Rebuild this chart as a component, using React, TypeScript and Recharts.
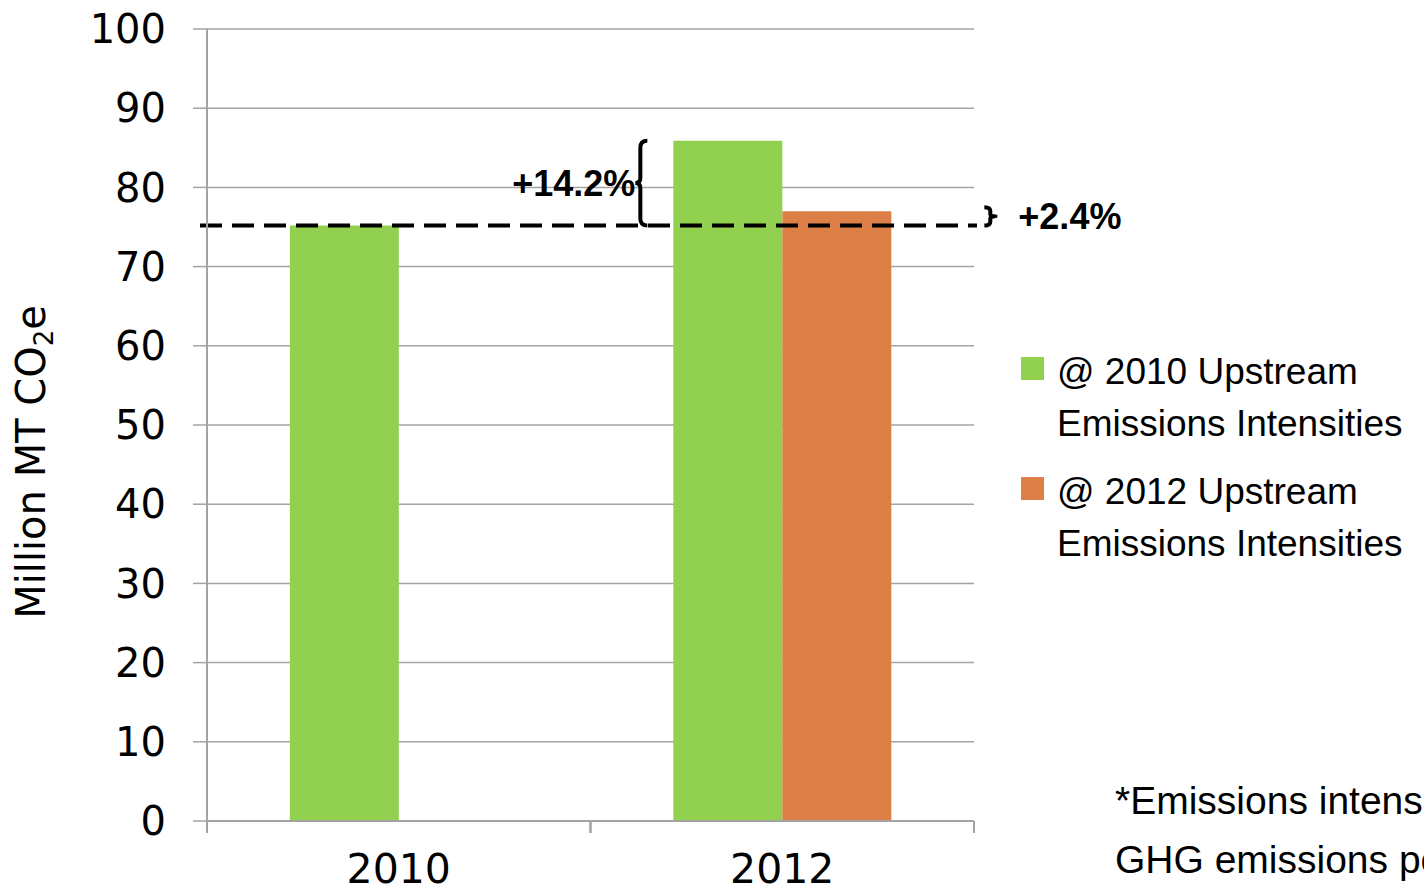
import React from "react";
import {
  BarChart,
  Bar,
  XAxis,
  YAxis,
  CartesianGrid,
  ReferenceLine,
  LabelList,
} from "recharts";

// emissions by year, valued at each year's upstream intensities
const years = ["2010", "2012"];
const at2010Intensities = [75.2, 85.9];
const at2012Intensities = [null, 77.0];
const yTicks = [0, 10, 20, 30, 40, 50, 60, 70, 80, 90, 100];

const series = [
  { key: "at2010", lines: ["@ 2010 Upstream", "Emissions Intensities"], color: "#92D050" },
  { key: "at2012", lines: ["@ 2012 Upstream", "Emissions Intensities"], color: "#DD8047" },
];

const footnote = ["*Emissions intensity =", "GHG emissions per unit of production"];

const data = years.map((year, i) => ({
  year,
  at2010: at2010Intensities[i],
  at2012: at2012Intensities[i],
}));

const baseline = at2010Intensities[0];

const W = 1424;
const H = 893;
const MARGIN = { top: 29, right: 450, bottom: 0, left: 0 };
const Y_AXIS_W = 207;
const X_AXIS_H = 72;
const BAND = (W - MARGIN.left - MARGIN.right - Y_AXIS_W) / years.length;

const GRID = "#a3a3a3";
const TICK_FONT = "'DejaVu Sans', sans-serif";
const TEXT_FONT = "'Liberation Sans', Arial, sans-serif";

const pctChange = (v: number) => `+${((v / baseline - 1) * 100).toFixed(1)}%`;

function YearTick(props: any) {
  const { x, y, payload } = props;
  return (
    <g>
      <line x1={x - BAND / 2} x2={x - BAND / 2} y1={y} y2={y + 12} stroke={GRID} strokeWidth={2} />
      <line x1={x + BAND / 2} x2={x + BAND / 2} y1={y} y2={y + 12} stroke={GRID} strokeWidth={2} />
      <text x={x} y={y + 62} textAnchor="middle" fontSize={41} fontFamily={TICK_FONT} fill="#000">
        {payload.value}
      </text>
    </g>
  );
}

function YLabel(props: any) {
  const vb = props.viewBox || { x: 0 };
  const cx = vb.x + 45;
  const cy = 462;
  return (
    <text
      x={cx}
      y={cy}
      textAnchor="middle"
      transform={`rotate(-90, ${cx}, ${cy})`}
      fontSize={40}
      fontFamily={TICK_FONT}
      fill="#000"
    >
      Million MT CO
      <tspan fontSize={26} dy={8}>2</tspan>
      <tspan dy={-8}>e</tspan>
    </text>
  );
}

// "{" brace beside the 2012 green bar, from the 2010 level up to the bar top
function GrowthBrace(props: any) {
  const vb = props.viewBox || props;
  const { x, y, height } = vb;
  const value = Number(props.value);
  if (!value || value === baseline) return null;
  const bottom = y + height - (height * baseline) / value;
  const bx = x - 33;
  const mid = (y + bottom) / 2;
  const d = `M ${bx + 7} ${y} Q ${bx} ${y} ${bx} ${y + 7} L ${bx} ${mid - 5} Q ${bx} ${mid} ${bx - 5} ${mid} Q ${bx} ${mid} ${bx} ${mid + 5} L ${bx} ${bottom - 7} Q ${bx} ${bottom} ${bx + 7} ${bottom}`;
  return (
    <g>
      <path d={d} fill="none" stroke="#000" strokeWidth={4} />
      <text x={bx - 5} y={mid} dy="0.36em" textAnchor="end" fontSize={36} fontWeight="bold" fontFamily={TEXT_FONT} fill="#000">
        {pctChange(value)}
      </text>
    </g>
  );
}

// small "}" brace right of the plot for the 2012-intensity bar
function SmallBrace(props: any) {
  const vb = props.viewBox || props;
  const { x, y, width, height } = vb;
  const value = Number(props.value);
  if (!value) return null;
  const bottom = y + height - (height * baseline) / value;
  const bx = x + width + 99;
  const top = y - 4;
  const mid = (top + bottom) / 2;
  const d = `M ${bx - 6} ${top} Q ${bx} ${top} ${bx} ${top + 4} L ${bx} ${mid - 2} Q ${bx} ${mid} ${bx + 5} ${mid} Q ${bx} ${mid} ${bx} ${mid + 2} L ${bx} ${bottom - 4} Q ${bx} ${bottom} ${bx - 6} ${bottom}`;
  return (
    <g>
      <path d={d} fill="none" stroke="#000" strokeWidth={4} />
      <line x1={bx} x2={bx + 7} y1={mid} y2={mid} stroke="#000" strokeWidth={3} />
      <text x={bx + 28} y={mid} dy="0.36em" textAnchor="start" fontSize={36} fontWeight="bold" fontFamily={TEXT_FONT} fill="#000">
        {pctChange(value)}
      </text>
    </g>
  );
}

export default function App() {
  return (
    <div
      style={{
        position: "absolute",
        left: 0,
        top: 0,
        width: W,
        height: H,
        overflow: "hidden",
        background: "#fff",
      }}
    >
      <BarChart width={W} height={H} data={data} margin={MARGIN} barGap={0} barCategoryGap="21.6%">
        <CartesianGrid vertical={false} stroke={GRID} strokeWidth={1.5} />
        <XAxis
          dataKey="year"
          height={X_AXIS_H}
          axisLine={{ stroke: GRID, strokeWidth: 2 }}
          tickLine={false}
          tickSize={0}
          tickMargin={0}
          tick={<YearTick />}
        />
        <YAxis
          width={Y_AXIS_W}
          domain={[0, 100]}
          ticks={yTicks}
          interval={0}
          axisLine={{ stroke: GRID, strokeWidth: 2 }}
          tickLine={{ stroke: GRID, strokeWidth: 1.5 }}
          tickSize={14}
          tickMargin={27}
          tick={{ fill: "#000", fontSize: 40, fontFamily: TICK_FONT }}
          label={<YLabel />}
        />
        <Bar dataKey="at2010" fill={series[0].color} isAnimationActive={false}>
          <LabelList dataKey="at2010" content={<GrowthBrace />} />
        </Bar>
        <Bar dataKey="at2012" fill={series[1].color} isAnimationActive={false}>
          <LabelList dataKey="at2012" content={<SmallBrace />} />
        </Bar>
        <ReferenceLine
          y={baseline}
          stroke="#000"
          strokeWidth={4}
          strokeDasharray="22 10"
          ifOverflow="visible"
          shape={(p: any) => (
            <line x1={p.x1 - 7} x2={p.x2 + 3} y1={p.y1} y2={p.y2} stroke="#000" strokeWidth={4} strokeDasharray="22 10" />
          )}
        />
      </BarChart>

      {/* legend */}
      <div style={{ position: "absolute", left: 1021, top: 346, fontFamily: TEXT_FONT, fontSize: 37, lineHeight: "52px", color: "#000" }}>
        {series.map((s) => (
          <div key={s.key} style={{ position: "relative", height: 120, whiteSpace: "nowrap" }}>
            <span style={{ position: "absolute", left: 0, top: 11, width: 23, height: 23, background: s.color }} />
            <div style={{ marginLeft: 36 }}>
              {s.lines.map((l) => (
                <div key={l}>{l}</div>
              ))}
            </div>
          </div>
        ))}
      </div>

      <div style={{ position: "absolute", left: 1115, top: 771, fontFamily: TEXT_FONT, fontSize: 39, lineHeight: "59px", color: "#000", whiteSpace: "nowrap" }}>
        {footnote.map((l) => (
          <div key={l}>{l}</div>
        ))}
      </div>
    </div>
  );
}
